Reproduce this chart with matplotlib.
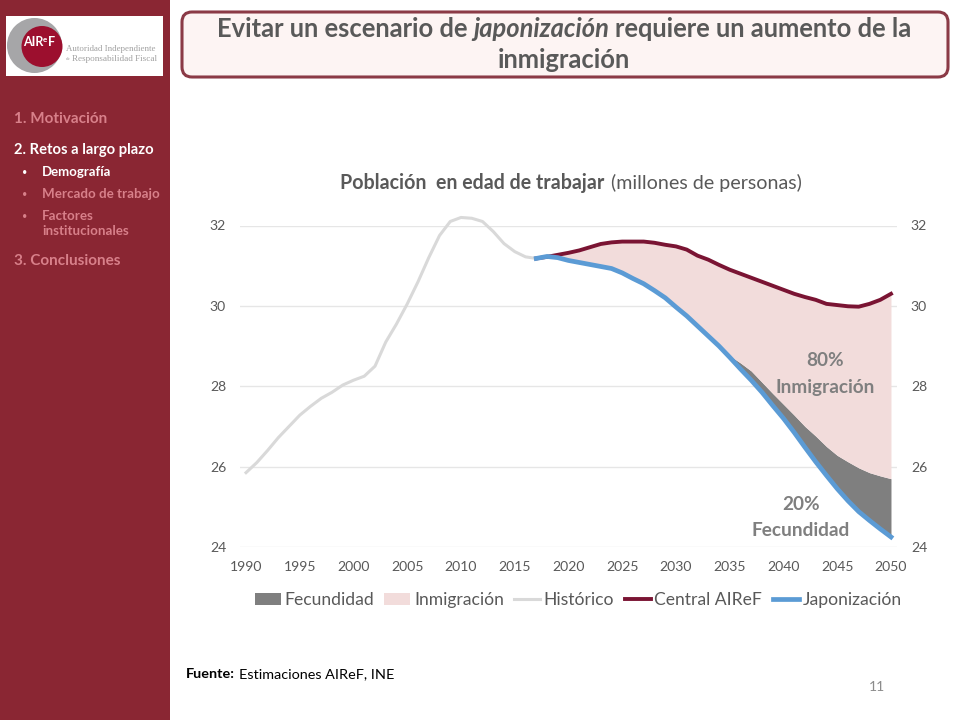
import matplotlib
matplotlib.use("Agg")
import matplotlib.pyplot as plt
from matplotlib.patches import Rectangle, Circle, FancyBboxPatch

SIDEBAR = "#8a2633"; PINK = "#d8808a"; BORDER = "#8b3a46"; BOXFILL = "#fdf4f3"
GREY = "#595959"; LABEL = "#7f7f7f"; GRID = "#e6e6e6"
C_FEC = "#7f7f7f"; C_INM = "#f2dcdb"; C_HIS = "#d9d9d9"; C_CEN = "#7a1433"; C_JAP = "#5b9bd5"

plt.rcParams["font.family"] = ["Lato", "DejaVu Sans"]

years_hist = list(range(1990, 2018))
historico = [25.85, 26.1, 26.4, 26.72, 27.0, 27.28, 27.5, 27.7, 27.85, 28.03,
             28.15, 28.25, 28.5, 29.1, 29.55, 30.05, 30.6, 31.2, 31.75, 32.1,
             32.2, 32.18, 32.1, 31.85, 31.55, 31.35, 31.22, 31.18]

years_proj = list(range(2017, 2051))
central = [31.18, 31.22, 31.27, 31.32, 31.38, 31.46, 31.54, 31.58, 31.6, 31.6,
           31.6, 31.57, 31.52, 31.48, 31.4, 31.25, 31.15, 31.02, 30.9, 30.8,
           30.7, 30.6, 30.5, 30.4, 30.3, 30.22, 30.15, 30.05, 30.02, 29.99,
           29.98, 30.05, 30.15, 30.3]
japonizacion = [31.18, 31.23, 31.2, 31.13, 31.08, 31.03, 30.98, 30.93, 30.82, 30.68,
                30.55, 30.38, 30.2, 29.97, 29.75, 29.5, 29.25, 29.0, 28.72, 28.43,
                28.15, 27.85, 27.52, 27.2, 26.85, 26.48, 26.12, 25.78, 25.45, 25.15,
                24.88, 24.66, 24.45, 24.25]
# upper edge of the fertility wedge
techo_fecundidad = [31.18, 31.23, 31.2, 31.13, 31.08, 31.03, 30.98, 30.93, 30.82, 30.68,
                    30.55, 30.38, 30.2, 29.97, 29.75, 29.5, 29.25, 29.0, 28.76, 28.58,
                    28.38, 28.1, 27.82, 27.55, 27.28, 27.0, 26.76, 26.5, 26.28, 26.12,
                    25.97, 25.85, 25.77, 25.7]

xticks = list(range(1990, 2051, 5))
yticks = [24, 26, 28, 30, 32]
menu = [("1. Motivación", 14, 119, PINK, 15.2),
        ("2. Retos a largo plazo", 14, 150, "white", 14.8),
        ("Demografía", 42, 172, "white", 13.2),
        ("Mercado de trabajo", 42, 194, PINK, 13.4),
        ("Factores", 42, 216, PINK, 13.4),
        ("institucionales", 42, 231, PINK, 13.4),
        ("3. Conclusiones", 14, 261, PINK, 15.2)]
bullets = [(172, "white"), (194, PINK), (216, PINK)]


def px(size):
    return size * 0.72


def runs(bg, x, y, parts, size, color, center=False):
    # text pieces in mixed styles on one baseline, laid out one after the other
    r = bg.figure.canvas.get_renderer()
    items = []
    total = 0
    for s, weight, style, gap in parts:
        t = bg.text(x, y, s, fontsize=px(size), fontweight=weight, fontstyle=style,
                    color=color, va="baseline", ha="left")
        w = t.get_window_extent(r).width
        items.append((t, w, gap))
        total += w + gap
    cur = x - total / 2 if center else x
    for t, w, gap in items:
        t.set_x(cur)
        cur += w + gap


fig = plt.figure(figsize=(9.6, 7.2), dpi=100, facecolor="white")

# slide furniture, in pixel coordinates
bg = fig.add_axes([0, 0, 1, 1], zorder=0)
bg.set_xlim(0, 960); bg.set_ylim(720, 0); bg.axis("off")
bg.add_patch(Rectangle((0, 0), 170, 720, color=SIDEBAR, lw=0))
bg.add_patch(Rectangle((6, 16), 157, 60, color="white", lw=0))
bg.add_patch(Circle((34.5, 45.5), 27.5, color="#a6a6a8", lw=0))
bg.add_patch(Circle((42, 46.5), 20.5, color="#9c0f2e", lw=0))
bg.text(23.5, 42, "AIR", color="white", fontsize=px(12.5), fontweight="bold", va="center")
bg.text(43, 40, "e", color="white", fontsize=px(8), fontweight="bold", va="center")
bg.text(48, 42, "F", color="white", fontsize=px(12.5), fontweight="bold", va="center")
bg.text(66, 49, "Autoridad Independiente", color="#a0a0a0", fontsize=px(8.9),
        family="Liberation Serif", va="center")
bg.text(66, 59, "de", color="#a0a0a0", fontsize=px(5),
        family="Liberation Serif", va="center")
bg.text(72, 59, "Responsabilidad Fiscal", color="#a0a0a0", fontsize=px(9.2),
        family="Liberation Serif", va="center")

for s, x, y, col, size in menu:
    bg.text(x, y, s, color=col, fontweight="bold", fontsize=px(size), va="center")
for y, col in bullets:
    bg.text(25, y, "•", color=col, fontsize=px(9), ha="center", va="center")

bg.add_patch(FancyBboxPatch((182, 12), 766, 65, boxstyle="round,pad=0,rounding_size=10",
                            fc=BOXFILL, ec=BORDER, lw=2.2))
runs(bg, 564, 37, [("Evitar un escenario de", "bold", "normal", 6),
                   ("japonización", "bold", "italic", 6),
                   ("requiere un aumento de la", "bold", "normal", 0)], 25.5, GREY, center=True)
bg.text(564, 60, "inmigración", color=GREY, fontsize=px(25.5), fontweight="bold", ha="center", va="center")

runs(bg, 571, 189, [("Población  en edad de trabajar", "bold", "normal", 7),
                    ("(millones de personas)", "normal", "normal", 0)], 19.7, GREY, center=True)

runs(bg, 186, 678, [("Fuente:", "bold", "normal", 4),
                    ("Estimaciones AIReF, INE", "normal", "normal", 0)], 14.4, "black")
bg.text(877, 687, "11", color="#8c8c8c", fontsize=px(14), ha="center", va="center")

# chart: 240..897 px wide, 225.5..547 px tall
ax = fig.add_axes([240 / 960, 1 - 547 / 720, 657 / 960, 321.5 / 720], zorder=1)
ax.patch.set_alpha(0)
ax.set_xlim(1989.44, 2050.56)
ax.set_ylim(24, 32)
for s in ax.spines.values():
    s.set_visible(False)
ax.set_yticks(yticks)
ax.set_xticks(xticks)
ax.grid(axis="y", color=GRID, linewidth=1)
ax.set_axisbelow(True)
ax.tick_params(length=0, labelsize=px(14), labelcolor=GREY)
ax.tick_params(axis="y", labelright=True, pad=10)
ax.tick_params(axis="x", pad=10)

f_fec = ax.fill_between(years_proj, japonizacion, techo_fecundidad, color=C_FEC, lw=0, label="Fecundidad")
f_inm = ax.fill_between(years_proj, techo_fecundidad, central, color=C_INM, lw=0, label="Inmigración")
l_his, = ax.plot(years_hist, historico, color=C_HIS, lw=2.2, clip_on=False, label="Histórico")
l_cen, = ax.plot(years_proj, central, color=C_CEN, lw=2.8, clip_on=False, label="Central AIReF")
l_jap, = ax.plot(years_proj, japonizacion, color=C_JAP, lw=3.4, clip_on=False, label="Japonización")

top = fig.add_axes([0, 0, 1, 1], zorder=2)
top.set_xlim(0, 960); top.set_ylim(720, 0); top.axis("off")
top.text(825, 361, "80%", color=LABEL, fontsize=px(19), fontweight="bold", ha="center", va="center")
top.text(825, 387, "Inmigración", color=LABEL, fontsize=px(19), fontweight="bold", ha="center", va="center")
top.text(801, 504, "20%", color=LABEL, fontsize=px(19), fontweight="bold", ha="center", va="center")
top.text(801, 530, "Fecundidad", color=LABEL, fontsize=px(19), fontweight="bold", ha="center", va="center")

leg = fig.legend(handles=[f_fec, f_inm, l_his, l_cen, l_jap], ncol=5, frameon=False,
                 loc="center", bbox_to_anchor=(578 / 960, 1 - 600 / 720),
                 fontsize=px(17.5), labelcolor=GREY, handlelength=1.49, handletextpad=0.2,
                 columnspacing=0.6, borderaxespad=0, borderpad=0)

fig.savefig("out.png", dpi=100, facecolor="white")
